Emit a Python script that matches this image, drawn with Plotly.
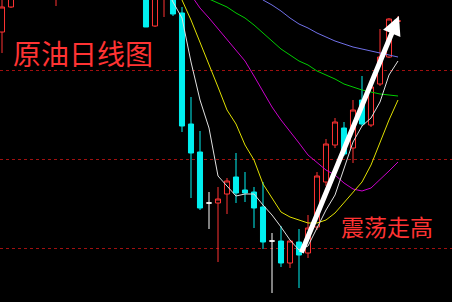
import plotly.graph_objects as go

# Candle index positions and OHLC (arbitrary price units, higher = up)
idx   = [0, 1, 6, 16, 17, 18, 19, 20, 21, 22, 24, 25, 26, 27, 28, 29, 31, 32, 33, 34, 35, 36, 37, 38, 39, 40, 41, 42, 43]
opens = [270, 295, 308, 312, 276, 307, 312, 289, 178, 150, 99, 108, 125, 112, 110, 95, 61, 39, 60, 49, 75, 120, 157, 174, 154, 202, 177, 218, 245]
highs = [312, 314, 327, 317, 314, 326, 316, 295, 205, 171, 115, 124, 149, 130, 115, 120, 76, 61, 73, 87, 130, 163, 184, 180, 202, 226, 222, 273, 284]
lows  = [249, 294, 296, 275, 275, 285, 286, 170, 104, 92, 40, 88, 99, 100, 74, 53, 35, 34, 14, 44, 72, 116, 154, 146, 139, 176, 175, 216, 244]
closes= [295, 310, 322, 275, 310, 322, 288, 176, 149, 94, 103, 121, 109, 109, 94, 60, 39, 61, 47, 74, 126, 158, 180, 148, 192, 178, 215, 245, 283]

# Doji candles (open == close)
doji_w_idx = [23, 30]
doji_w_oc  = [99, 61]
doji_w_hi  = [110, 69]
doji_w_lo  = [73, 9]

doji_r_idx = [44]
doji_r_oc  = [281]
doji_r_hi  = [286]
doji_r_lo  = [279]

# Moving averages
ma5_idx  = list(range(18, 45))
ma5      = [318, 300, 284, 240, 202, 174, 126, 116, 106, 108, 108, 97, 87, 75, 62, 52, 56, 74, 92, 107, 134, 160, 176, 184, 200, 227, 241]
ma10_idx = list(range(19, 45))
ma10     = [327, 302, 282, 260, 237, 215, 192, 178, 157, 142, 118, 104, 90, 85, 82, 79, 79, 82, 89, 99, 110, 120, 137, 159, 182, 202]
ma20_idx = list(range(21, 45))
ma20     = [307, 294, 284, 273, 263, 252, 241, 226, 210, 195, 182, 171, 159, 147, 139, 132, 127, 119, 113, 111, 114, 122, 131, 140]
ma30_idx = list(range(22, 45))
ma30     = [307, 303, 299, 295, 289, 284, 277, 269, 261, 253, 247, 241, 237, 231, 227, 223, 218, 215, 212, 210, 208, 207, 206]
ma60_idx = list(range(28, 45))
ma60     = [310, 302, 297, 291, 284, 278, 274, 269, 265, 261, 258, 255, 253, 251, 249, 247, 245]

grid_levels = [54, 143, 232]

RED = "#ff3333"
CYAN = "#00f0f0"

fig = go.Figure()

fig.add_trace(go.Candlestick(
    x=idx, open=opens, high=highs, low=lows, close=closes,
    increasing=dict(line=dict(color=RED, width=1), fillcolor="black"),
    decreasing=dict(line=dict(color=CYAN, width=1), fillcolor=CYAN),
    showlegend=False, hoverinfo="skip"))

fig.add_trace(go.Candlestick(
    x=doji_w_idx, open=doji_w_oc, high=doji_w_hi, low=doji_w_lo, close=doji_w_oc,
    increasing=dict(line=dict(color="white", width=1), fillcolor="white"),
    decreasing=dict(line=dict(color="white", width=1), fillcolor="white"),
    showlegend=False, hoverinfo="skip"))

fig.add_trace(go.Candlestick(
    x=doji_r_idx, open=doji_r_oc, high=doji_r_hi, low=doji_r_lo, close=doji_r_oc,
    increasing=dict(line=dict(color=RED, width=1), fillcolor=RED),
    decreasing=dict(line=dict(color=RED, width=1), fillcolor=RED),
    showlegend=False, hoverinfo="skip"))

for xs, ys, col in [(ma60_idx, ma60, "#7070e8"), (ma30_idx, ma30, "#00cc00"),
                    (ma20_idx, ma20, "#cc00cc"), (ma10_idx, ma10, "#e0e000"),
                    (ma5_idx, ma5, "#e0e0e0")]:
    fig.add_trace(go.Scatter(x=xs, y=ys, mode="lines", line=dict(color=col, width=1),
                             showlegend=False, hoverinfo="skip"))

fig.add_annotation(x=44.1, y=286, ax=33.2, ay=48, xref="x", yref="y", axref="x", ayref="y",
                   showarrow=True, arrowhead=2, arrowwidth=5, arrowsize=0.75,
                   arrowcolor="white", text="", standoff=0)

fig.add_annotation(x=9.0, y=249, text="原油日线图", showarrow=False, xref="x", yref="y",
                   font=dict(family="Noto Sans CJK SC", size=28, color=RED))
fig.add_annotation(x=42.8, y=76, text="震荡走高", showarrow=False, xref="x", yref="y",
                   font=dict(family="Noto Sans CJK SC", size=23, color=RED))

fig.update_layout(
    width=452, height=302, margin=dict(l=0, r=0, t=0, b=0),
    paper_bgcolor="black", plot_bgcolor="black", boxgap=0.2,
    xaxis=dict(range=[-0.222, 50.0], showgrid=False, zeroline=False, showticklabels=False,
               rangeslider=dict(visible=False), fixedrange=True),
    yaxis=dict(range=[0, 302], tickvals=grid_levels, showticklabels=False, showgrid=True,
               gridcolor="#a01010", griddash="dot", gridwidth=1, zeroline=False, fixedrange=True),
)

fig.write_html("out.html")
